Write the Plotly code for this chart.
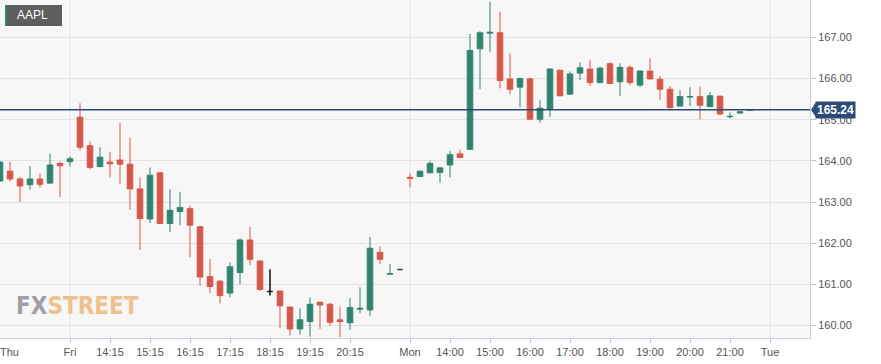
import plotly.graph_objects as go

# ---------------- data (15-minute AAPL candles) ----------------
slot = list(range(76))
open_ = [163.51, 163.75, 163.56, 163.42, 163.56, 163.46, 163.94, 163.98, 165.06, 164.37,
         163.86, 163.97, 164.02, 163.92, 163.32, 162.59, 163.71, 162.48, 162.77, 162.84,
         162.40, 161.19, 161.08, 160.79, 161.29, 162.08, 161.57, 160.83, 160.84, 160.45,
         159.92, 160.10, 160.57, 160.52, 160.14, 160.07, 160.40, 160.38, 161.78, 161.25,
         161.36, 163.60, 163.62, 163.71, 163.72, 163.90, 164.17, 164.28, 166.72, 167.10,
         167.11, 165.99, 165.79, 165.99, 165.01, 165.26, 166.20, 165.62, 166.13, 166.23,
         165.90, 166.36, 165.92, 166.27, 165.84, 166.18, 165.98, 165.74, 165.33, 165.55,
         165.56, 165.32, 165.57, 165.07, 165.16, 165.23]
high = [163.99, 163.98, 163.61, 163.88, 163.70, 164.18, 163.98, 164.10, 165.40, 164.47,
        164.33, 164.22, 164.93, 164.57, 163.60, 163.84, 163.72, 163.31, 163.25, 162.92,
        162.42, 161.62, 161.10, 161.53, 162.12, 162.40, 161.58, 161.37, 160.84, 160.46,
        160.42, 160.69, 160.58, 160.55, 160.46, 160.67, 160.93, 162.15, 161.92, 161.49,
        161.36, 163.70, 163.76, 164.00, 163.84, 164.24, 164.27, 167.08, 167.15, 167.86,
        167.62, 166.61, 166.00, 166.02, 165.48, 166.24, 166.21, 166.17, 166.39, 166.45,
        166.29, 166.39, 166.37, 166.32, 166.19, 166.49, 166.06, 165.82, 165.72, 165.79,
        165.80, 165.67, 165.58, 165.18, 165.19, 165.24]
low = [163.49, 163.50, 163.00, 163.30, 163.35, 163.45, 163.12, 163.86, 164.26, 163.80,
       163.85, 163.60, 163.44, 162.81, 161.84, 162.49, 162.47, 162.27, 162.44, 161.66,
       160.97, 160.79, 160.54, 160.69, 161.00, 161.47, 160.84, 160.73, 159.94, 159.76,
       159.78, 159.73, 159.92, 160.00, 159.72, 159.90, 160.30, 160.24, 161.49, 161.25,
       161.36, 163.36, 163.61, 163.70, 163.47, 163.60, 164.07, 164.27, 165.74, 166.65,
       165.76, 165.62, 165.30, 165.00, 164.93, 165.07, 165.57, 165.60, 165.96, 165.82,
       165.88, 165.86, 165.58, 165.84, 165.79, 165.98, 165.48, 165.28, 165.32, 165.33,
       165.01, 165.30, 165.10, 165.03, 165.15, 165.23]
close = [163.97, 163.56, 163.39, 163.56, 163.43, 163.90, 163.88, 164.05, 164.33, 163.84,
         164.09, 163.93, 163.92, 163.32, 162.60, 163.65, 162.48, 162.80, 162.87, 162.44,
         161.18, 160.95, 160.73, 161.43, 162.08, 161.61, 160.88, 160.83, 160.48, 159.92,
         160.14, 160.52, 160.50, 160.08, 160.10, 160.44, 160.42, 161.88, 161.61, 161.26,
         161.36, 163.58, 163.75, 163.94, 163.83, 164.15, 164.08, 166.68, 167.11, 167.12,
         165.95, 165.74, 166.00, 165.01, 165.28, 166.23, 165.58, 166.11, 166.26, 165.90,
         166.25, 165.88, 166.27, 165.90, 166.18, 165.99, 165.74, 165.29, 165.56, 165.56,
         165.35, 165.58, 165.14, 165.08, 165.19, 165.24]

# candles drawn in special colours (flat open/close)
black_slots = [27]
navy_slots = [40]

last_price = 165.24
symbol = "AAPL"

tick_slots = [7, 11, 15, 19, 23, 27, 31, 35, 41, 45, 49, 53, 57, 61, 65, 69, 73, 77]
tick_text = ["Fri", "14:15", "15:15", "16:15", "17:15", "18:15", "19:15", "20:15",
             "Mon", "14:00", "15:00", "16:00", "17:00", "18:00", "19:00", "20:00", "21:00", "Tue"]
day_slots = [7, 41, 77]
first_day_label = "Thu"
first_day_slot = 0.9

y_ticks = [160, 161, 162, 163, 164, 165, 166, 167]

# ---------------- styling ----------------
GREEN = "#318470"
RED = "#d5594a"
NAVY = "#2b4a78"
GRID = "#e3e3e3"
BORDER = "#cbd2e2"
TXT = "#555555"
FONT = "Liberation Sans, Arial, sans-serif"

special = set(black_slots) | set(navy_slots)
norm = [i for i in range(len(slot)) if slot[i] not in special]

def pick(lst, idx):
    return [lst[i] for i in idx]

fig = go.Figure()
fig.add_trace(go.Candlestick(
    x=pick(slot, norm), open=pick(open_, norm), high=pick(high, norm),
    low=pick(low, norm), close=pick(close, norm),
    increasing=dict(line=dict(color=GREEN, width=1), fillcolor=GREEN),
    decreasing=dict(line=dict(color=RED, width=1), fillcolor=RED),
    hoverinfo="skip", showlegend=False))

for idxs_slots, col in ((black_slots, "#111111"), (navy_slots, NAVY)):
    idx = [i for i in range(len(slot)) if slot[i] in idxs_slots]
    fig.add_trace(go.Candlestick(
        x=pick(slot, idx), open=pick(open_, idx), high=pick(high, idx),
        low=pick(low, idx), close=pick(close, idx),
        increasing=dict(line=dict(color=col, width=1.5), fillcolor=col),
        decreasing=dict(line=dict(color=col, width=1.5), fillcolor=col),
        hoverinfo="skip", showlegend=False))

W, H = 881, 364
ML, MR, MT, MB = 0, 71, 0, 26
PW, PH = W - ML - MR, H - MT - MB

def px_x(p):
    return p / PW

def px_y(p):
    return 1 - p / PH

shapes = []
for d in day_slots:
    shapes.append(dict(type="line", xref="x", yref="paper", x0=d, x1=d, y0=0, y1=1,
                       line=dict(color=GRID, width=1), layer="below"))
# current price line
shapes.append(dict(type="line", xref="paper", yref="y", x0=0, x1=1, y0=last_price, y1=last_price,
                   line=dict(color=NAVY, width=1.5), layer="above"))
# price tag pointer
shapes.append(dict(type="path", xref="paper", yref="y", xsizemode="pixel", ysizemode="pixel",
                   xanchor=1, yanchor=last_price,
                   path="M 1,0 L 6,7.5 L 6,-7.5 Z", fillcolor=NAVY, line=dict(width=0)))
# symbol box
shapes.append(dict(type="rect", xref="paper", yref="paper", x0=px_x(5), x1=px_x(62),
                   y0=px_y(26), y1=px_y(5), fillcolor="#5e5e5e", line=dict(width=0)))
shapes.append(dict(type="rect", xref="paper", yref="paper", x0=px_x(5), x1=px_x(7),
                   y0=px_y(26), y1=px_y(5), fillcolor=GREEN, line=dict(width=0)))

annotations = [
    dict(text=symbol, xref="paper", yref="paper", x=px_x(15), y=px_y(15.5),
         xanchor="left", yanchor="middle", showarrow=False,
         font=dict(family=FONT, size=12, color="white")),
    dict(text=f"<b>{last_price:.2f}</b>", xref="paper", yref="y", x=1, y=last_price,
         xanchor="left", yanchor="middle", xshift=5, showarrow=False,
         bgcolor=NAVY, borderpad=1, font=dict(family=FONT, size=12, color="white")),
    dict(text=first_day_label, xref="x", yref="paper", x=first_day_slot, y=0,
         yanchor="top", yshift=-6, showarrow=False,
         font=dict(family=FONT, size=11, color=TXT)),
    dict(text="<b><span style='color:#9fa0a6'>FX</span><span style='color:#f0c18c'>STREET</span></b>",
         xref="paper", yref="paper", x=px_x(14), y=px_y(322),
         xanchor="left", yanchor="bottom", showarrow=False,
         font=dict(family="Liberation Sans Narrow, DejaVu Sans Condensed, Roboto Condensed, sans-serif", size=24)),
]

fig.update_layout(
    width=W, height=H,
    margin=dict(l=ML, r=MR, t=MT, b=MB, pad=0),
    paper_bgcolor="white", plot_bgcolor="#f7f7f7",
    boxgap=0.2,
    shapes=shapes, annotations=annotations,
    font=dict(family=FONT, size=11, color=TXT),
    xaxis=dict(range=[0, 81], tickmode="array", tickvals=tick_slots, ticktext=tick_text,
               showgrid=False, zeroline=False, ticks="outside", ticklen=4, tickcolor="#b8c0d2",
               showline=True, mirror=True, linecolor=BORDER, linewidth=1,
               rangeslider=dict(visible=False), fixedrange=True,
               tickfont=dict(size=11, color=TXT)),
    yaxis=dict(range=[159.70, 167.905], side="right", tickmode="array", tickvals=y_ticks,
               tickformat=".2f", showgrid=True, gridcolor=GRID, gridwidth=1, zeroline=False,
               ticks="outside", ticklen=5, tickcolor="#b8c0d2",
               showline=True, mirror=True, linecolor=BORDER, linewidth=1, fixedrange=True,
               tickfont=dict(size=11, color=TXT)),
)

fig.write_html("out.html", config={"displayModeBar": False},
               post_script="document.body.style.margin='0';document.body.style.padding='0';")
